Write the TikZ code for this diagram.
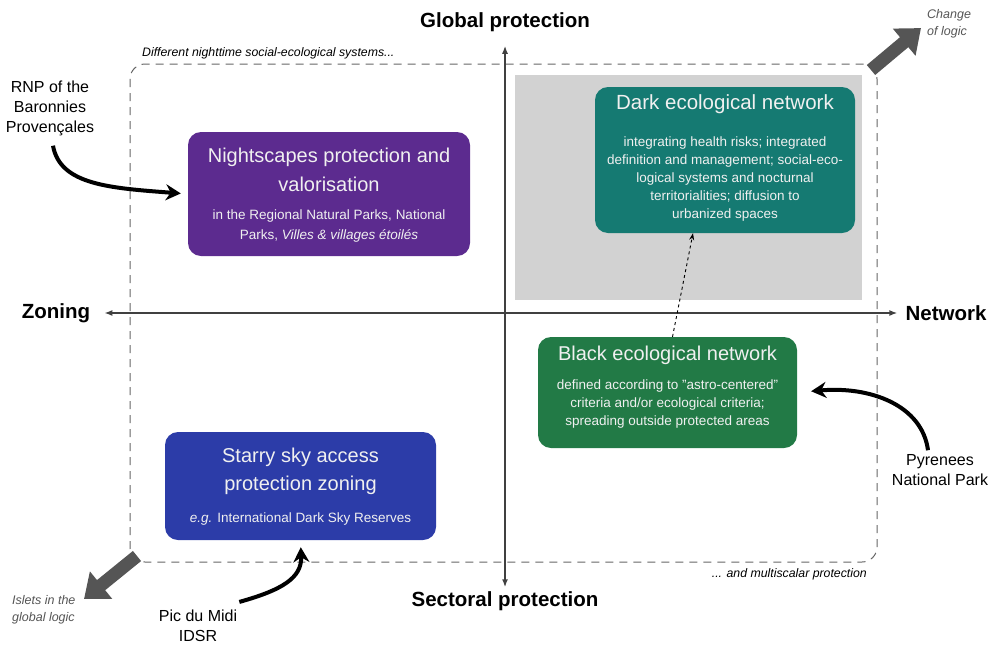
\documentclass[tikz,border=0pt]{standalone}
\usepackage{fontspec}
\setmainfont{Liberation Sans}
\usetikzlibrary{arrows.meta,positioning}

\definecolor{nspurple}{HTML}{5C2B8F}
\definecolor{darkteal}{HTML}{157A72}
\definecolor{blackgreen}{HTML}{227A46}
\definecolor{starblue}{HTML}{2C3CA8}
\definecolor{panelgray}{HTML}{D2D2D2}
\definecolor{logicgray}{HTML}{555555}

\begin{document}
\begin{tikzpicture}[x=1pt,y=-1pt,
  box/.style={rounded corners=13pt,inner sep=0pt},
  boxtitle/.style={text=white!94!black,align=center,inner sep=0pt,font=\fontsize{20}{29}\selectfont},
  boxbody/.style={text=white!94!black,align=center,inner sep=0pt,font=\fontsize{13.5}{18}\selectfont},
  axislabel/.style={font=\bfseries\fontsize{20.5}{23}\selectfont,inner sep=0pt},
  sitelabel/.style={align=center,inner sep=0pt,font=\fontsize{16}{20}\selectfont},
  note/.style={font=\itshape\fontsize{12.3}{18}\selectfont,inner sep=0pt},
  bigcurve/.style={line width=4pt,-{Stealth[length=15pt,width=16pt]}},
  logicarrow/.style={line width=13pt,logicgray,-{Triangle[length=22pt,width=34pt]}}]

\useasboundingbox (0,0) rectangle (993,651);

% quadrants frame
\fill[panelgray] (515,75) rectangle (862,300);
\draw[gray!80!black,line width=1pt,dash pattern=on 8pt off 6pt,rounded corners=15pt] (130,64) rectangle (877,562);

% axes
\node[axislabel] (glob) at (505,22) {Global protection};
\node[axislabel] (sect) at (505,601) {Sectoral protection};
\node[axislabel] (zon) at (56,313) {Zoning};
\node[axislabel] (net) at (946,313) {Network};
\draw[black!75,line width=1.5pt,{Latex[length=8pt]}-{Latex[length=8pt]}] ([yshift=-14pt]glob.south) -- ([yshift=4pt]sect.north);
\draw[black!75,line width=1.5pt,{Latex[length=8pt]}-{Latex[length=8pt]}] ([xshift=-8pt]net.west) -- ([xshift=14pt]zon.east);

% boxes
\node[box,fill=nspurple,minimum width=282pt,minimum height=124pt] (nsp) at (329,194) {};
\node[boxtitle] (nspt) at (329,170) {Nightscapes protection and\\valorisation};
\node[boxbody,font=\fontsize{13.5}{20}\selectfont] (nspb) at (329,226) {in the Regional Natural Parks, National\\Parks, \textit{Villes \& villages étoilés}};

\node[box,fill=darkteal,minimum width=260pt,minimum height=146pt] (den) at (725,160) {};
\node[boxtitle,font=\fontsize{20.5}{29}\selectfont] (dent) at (725,104) {Dark ecological network};
\node[boxbody] (denb) at (725,179) {integrating health risks; integrated\\definition and management; social-eco-\\logical systems and nocturnal\\territorialities; diffusion to\\urbanized spaces};

\node[box,fill=blackgreen,minimum width=259pt,minimum height=111pt] (ben) at (667.5,392.5) {};
\node[boxtitle] (bent) at (667.5,355) {Black ecological network};
\node[boxbody] (benb) at (667.5,404) {defined according to "astro-centered"\\criteria and/or ecological criteria;\\spreading outside protected areas};

\node[box,fill=starblue,minimum width=271pt,minimum height=108pt] (ssa) at (300.5,486) {};
\node[boxtitle,font=\fontsize{20}{28}\selectfont] (ssat) at (300.5,471) {Starry sky access\\protection zoning};
\node[boxbody] (ssab) at (300.5,519) {\textit{e.g.} International Dark Sky Reserves};

\draw[dashed,line width=0.9pt,-{Stealth[length=7pt,width=5pt]}] ([xshift=5pt]ben.north) -- ([xshift=-32pt]den.south);

% sites
\node[sitelabel] (rnp) at (50,108) {RNP of the\\Baronnies\\Provençales};
\node[sitelabel] (pyr) at (940,470) {Pyrenees\\National Park};
\node[sitelabel] (pic) at (198,626) {Pic du Midi\\IDSR};
\draw[bigcurve,shorten >=7pt] ([xshift=3pt,yshift=-10pt]rnp.south) .. controls (60,185) and (110,188) .. (nsp.west);
\draw[bigcurve,shorten >=14pt] ([xshift=-12pt,yshift=4pt]pyr.north) .. controls (922,405) and (870,386) .. (ben.east);
\draw[bigcurve,shorten >=7pt] ([xshift=2pt,yshift=8pt]pic.north east) .. controls (282,590) and (302,578) .. (ssa.south);

% notes
\node[note,anchor=west] (sys) at (142,53) {Different nighttime social-ecological systems...};
\node[note,anchor=east] (msc) at (867,574) {... and multiscalar protection};
\node[note,anchor=north west,align=left,text=logicgray,font=\itshape\fontsize{12.5}{17}\selectfont] (chg) at (927,9) {Change\\of logic};
\node[note,anchor=north west,align=left,text=logicgray,font=\itshape\fontsize{12.5}{17}\selectfont] (isl) at (12,595) {Islets in the\\global logic};
\coordinate (ne) at (871,70);
\coordinate (sw) at (137,556);
\draw[logicarrow] (ne) -- ([xshift=-6pt,yshift=10pt]chg.south west);
\draw[logicarrow] (sw) -- ([xshift=72pt,yshift=-4pt]isl.north west);

\end{tikzpicture}
\end{document}
